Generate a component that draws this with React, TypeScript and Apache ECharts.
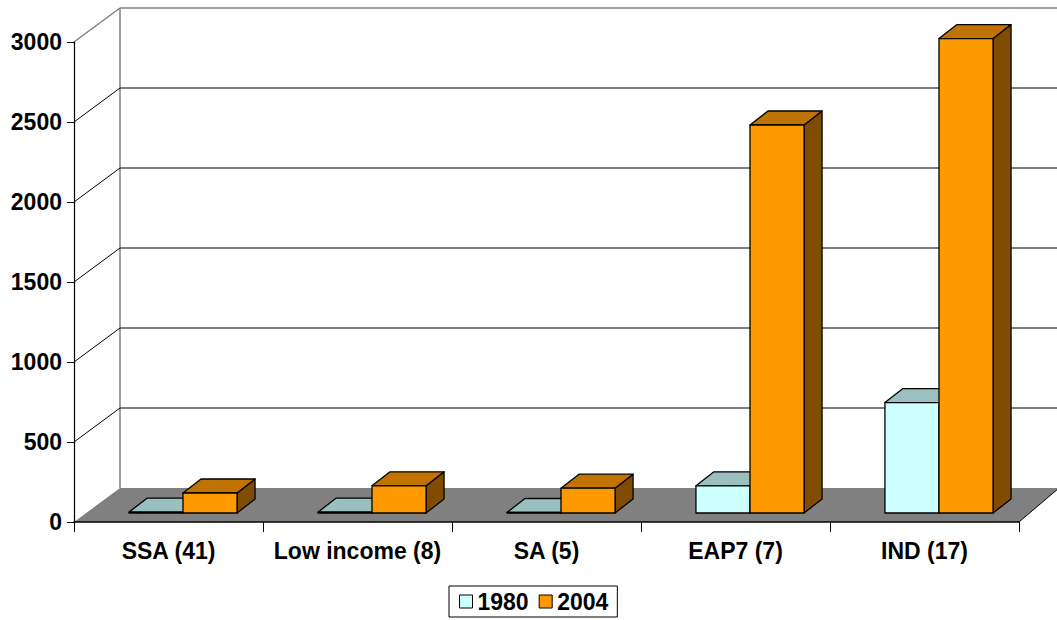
import React, { useEffect, useRef } from "react";
import * as echarts from "echarts";

// Regions and the number of economies in each group
const categories = ["SSA (41)", "Low income (8)", "SA (5)", "EAP7 (7)", "IND (17)"];
const seriesNames = ["1980", "2004"];
const values1980 = [5, 5, 3, 170, 690];
const values2004 = [125, 170, 155, 2425, 2965];
const yTicks = [0, 500, 1000, 1500, 2000, 2500, 3000];

// Oblique projection used for the walls, floor and the bar boxes
const WALL_DX = 46;
const WALL_DY = -34;
const BAR_FRONT_DX = 14.5;
const BAR_FRONT_DY = -9;
const BAR_DEPTH_DX = 18;
const BAR_DEPTH_DY = -14;
const BAR_WIDTH_RATIO = 0.286;

const FONT = "'Liberation Sans', Arial, sans-serif";

type Palette = { front: string; top: string; side: string };
const palette1980: Palette = { front: "#CCFFFF", top: "#99BFBF", side: "#668080" };
const palette2004: Palette = { front: "#FF9900", top: "#C07300", side: "#804C00" };

function wallRenderer(params: any, api: any) {
  const cs = params.coordSys;
  const v = api.value(1);
  const y = api.coord([0, v])[1];
  const x0 = cs.x;
  const xR = cs.x + cs.width;
  const bx = x0 + WALL_DX;
  const by = y + WALL_DY;
  const children: any[] = [];
  if (v === 0) {
    children.push({
      type: "polygon",
      shape: { points: [[x0, y], [bx, by], [xR + 40, by], [xR, y]] },
      style: { fill: "#808080", stroke: null },
    });
    children.push({
      type: "line",
      shape: { x1: xR, y1: y, x2: xR + 40, y2: by },
      style: { stroke: "#000", lineWidth: 1 },
    });
    const yTop = api.coord([0, yTicks[yTicks.length - 1]])[1] + WALL_DY;
    children.push({
      type: "line",
      shape: { x1: bx, y1: by, x2: bx, y2: yTop },
      style: { stroke: "#808080", lineWidth: 1.5 },
    });
  } else {
    const isTop = v === yTicks[yTicks.length - 1];
    const col = isTop ? "#808080" : "#000";
    children.push({
      type: "line",
      shape: { x1: x0, y1: y, x2: bx, y2: by },
      style: { stroke: col, lineWidth: isTop ? 1.5 : 1 },
    });
    children.push({
      type: "line",
      shape: { x1: bx, y1: by, x2: xR + 80, y2: by },
      style: { stroke: col, lineWidth: isTop ? 1.5 : 1 },
    });
  }
  return { type: "group", children };
}

function makeBarRenderer(slot: number, pal: Palette) {
  return (params: any, api: any) => {
    const cat = api.value(0);
    const val = api.value(1);
    const base = api.coord([cat, 0]);
    const top = api.coord([cat, val]);
    const band = api.size([1, 0])[0];
    const w = band * BAR_WIDTH_RATIO;
    const cx = base[0] + BAR_FRONT_DX;
    const x0 = slot === 0 ? cx - w : cx;
    const x1 = x0 + w;
    const yb = base[1] + BAR_FRONT_DY;
    const yt = top[1] + BAR_FRONT_DY;
    const edge = { stroke: "#000", lineWidth: 1.3, lineJoin: "round" };
    return {
      type: "group",
      children: [
        {
          type: "polygon",
          shape: {
            points: [
              [x1, yt],
              [x1 + BAR_DEPTH_DX, yt + BAR_DEPTH_DY],
              [x1 + BAR_DEPTH_DX, yb + BAR_DEPTH_DY],
              [x1, yb],
            ],
          },
          style: { fill: pal.side, ...edge },
        },
        {
          type: "polygon",
          shape: {
            points: [
              [x0, yt],
              [x0 + BAR_DEPTH_DX, yt + BAR_DEPTH_DY],
              [x1 + BAR_DEPTH_DX, yt + BAR_DEPTH_DY],
              [x1, yt],
            ],
          },
          style: { fill: pal.top, ...edge },
        },
        {
          type: "rect",
          shape: { x: x0, y: yt, width: w, height: Math.max(yb - yt, 0) },
          style: { fill: pal.front, ...edge },
        },
      ],
    };
  };
}

export default function App() {
  const ref = useRef<HTMLDivElement>(null);

  useEffect(() => {
    if (!ref.current) return;
    const chart = echarts.init(ref.current, undefined, { renderer: "svg" });
    const labelStyle = { color: "#000", fontFamily: FONT, fontWeight: "bold" as const, fontSize: 23 };
    chart.setOption({
      animation: false,
      backgroundColor: "#fff",
      grid: { left: 74, right: 38, top: 42, bottom: 98, containLabel: false },
      legend: {
        data: seriesNames,
        left: 449,
        top: 586,
        padding: [4, 9, 4, 10],
        itemGap: 10,
        itemWidth: 13,
        itemHeight: 13,
        icon: "rect",
        borderColor: "#000",
        borderWidth: 1,
        textStyle: labelStyle,
        itemStyle: { borderColor: "#000", borderWidth: 1 },
      },
      xAxis: {
        type: "category",
        data: categories,
        z: 10,
        axisLine: { lineStyle: { color: "#000", width: 1.5 } },
        axisTick: { show: true, length: 10, lineStyle: { color: "#000" } },
        axisLabel: { ...labelStyle, margin: 17, interval: 0 },
        splitLine: { show: false },
      },
      yAxis: {
        type: "value",
        min: 0,
        max: 3000,
        interval: 500,
        z: 10,
        axisLine: { show: true, lineStyle: { color: "#000", width: 1.2 } },
        axisTick: { show: true, length: 7, lineStyle: { color: "#000" } },
        axisLabel: { ...labelStyle, margin: 12, formatter: (v: number) => String(v) },
        splitLine: { show: false },
      },
      series: [
        {
          name: "walls",
          type: "custom",
          silent: true,
          clip: false,
          z: 1,
          data: yTicks.map((v) => [0, v]),
          renderItem: wallRenderer,
        },
        {
          name: seriesNames[0],
          type: "custom",
          clip: false,
          z: 2,
          color: palette1980.front,
          itemStyle: { color: palette1980.front, borderColor: "#000", borderWidth: 1 },
          data: categories.map((_, i) => [i, values1980[i]]),
          renderItem: makeBarRenderer(0, palette1980),
        },
        {
          name: seriesNames[1],
          type: "custom",
          clip: false,
          z: 3,
          color: palette2004.front,
          itemStyle: { color: palette2004.front, borderColor: "#000", borderWidth: 1 },
          data: categories.map((_, i) => [i, values2004[i]]),
          renderItem: makeBarRenderer(1, palette2004),
        },
      ],
    });
    return () => chart.dispose();
  }, []);

  return (
    <div
      ref={ref}
      style={{ position: "fixed", left: 0, top: 0, width: 1057, height: 620, background: "#fff" }}
    />
  );
}
